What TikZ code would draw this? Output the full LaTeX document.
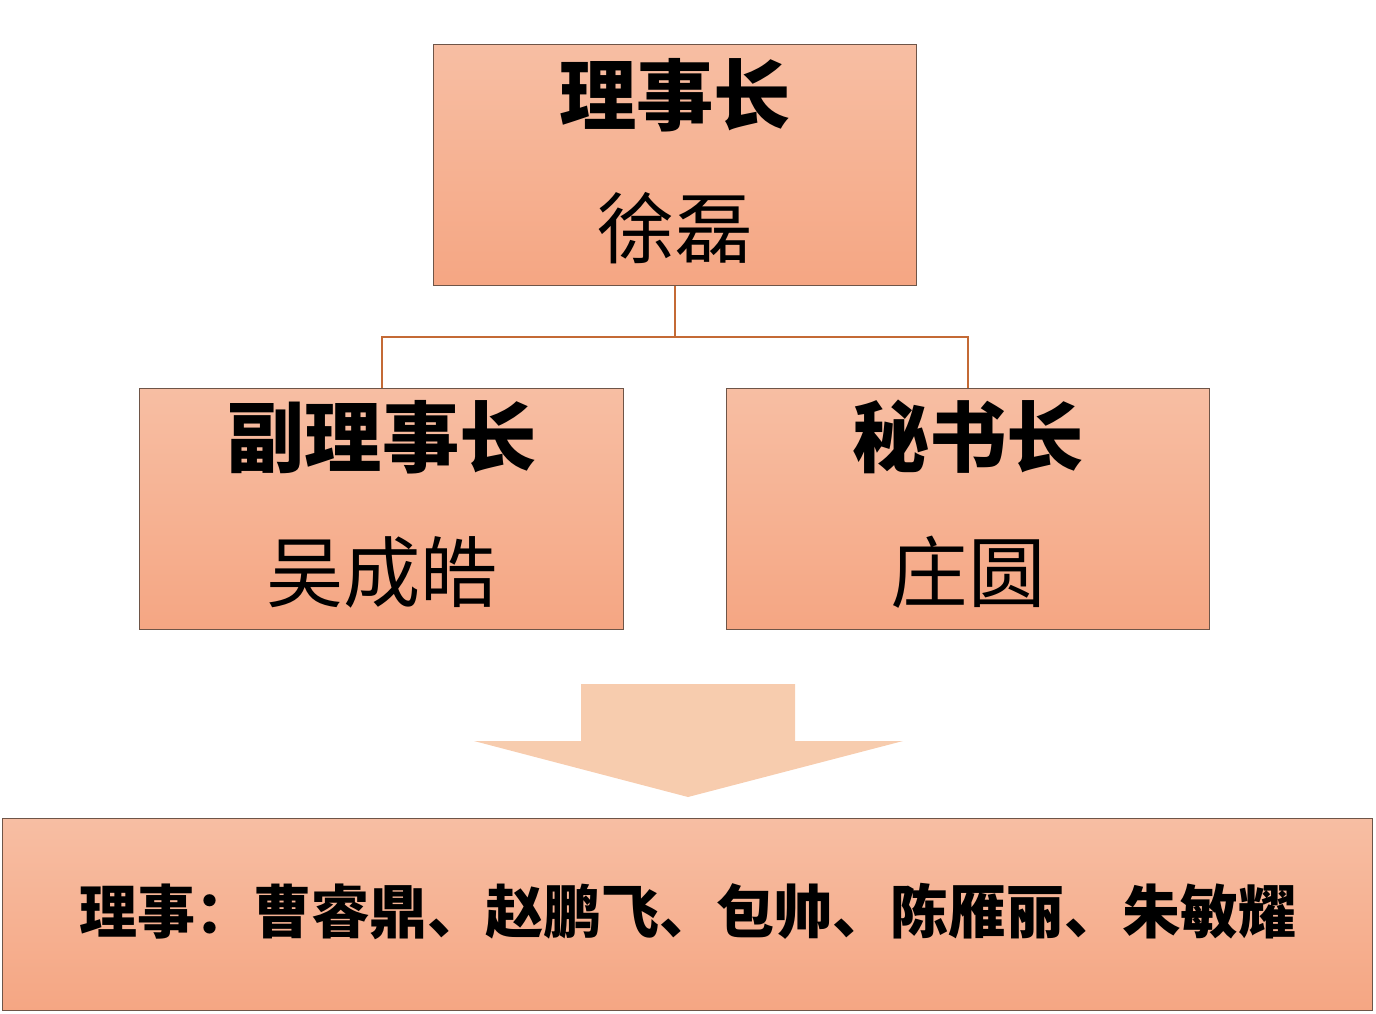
\documentclass[tikz,border=0pt]{standalone}
\usepackage{fontspec}
\newfontfamily\cjk{Noto Sans CJK SC}
\definecolor{boxtop}{HTML}{F7BEA3}
\definecolor{boxbottom}{HTML}{F5A683}
\definecolor{boxline}{HTML}{6E5548}
\definecolor{linkline}{HTML}{C46A35}
\definecolor{arrowfill}{HTML}{F7CCAE}
\tikzset{
  postbox/.style={rectangle, draw=boxline, line width=0.02cm, top color=boxtop, bottom color=boxbottom, inner sep=0pt},
  posttitle/.style={font=\cjk\bfseries\fontsize{44}{50}\selectfont, inner sep=0pt},
  postname/.style={font=\cjk\fontsize{44}{50}\selectfont, inner sep=0pt},
  link/.style={draw=linkline, line width=0.04cm}
}
\begin{document}
\begin{tikzpicture}[x=0.02cm,y=-0.02cm]
  \useasboundingbox (0,0) rectangle (1376,1014);
  {\cjk

  % Drawing boxes
  \node [postbox, minimum width=9.68cm, minimum height=4.84cm] (chair) at (675,165) {};
  \node [postbox, minimum width=9.70cm, minimum height=4.84cm] (vice) at (381.5,509) {};
  \node [postbox, minimum width=9.68cm, minimum height=4.84cm] (secretary) at (968,509) {};
  \node [postbox, minimum width=27.42cm, minimum height=3.86cm] (council) at (687.5,914.5) {};

  % Drawing connectors
  \coordinate (split) at (675,337);
  \draw [link] (chair.south) -- (split);
  \draw [link] (split) -| (vice.north);
  \draw [link] (split) -| (secretary.north);

  % Drawing arrow
  \fill [arrowfill] (581,684) -- (795,684) -- (795,741) -- (903,741) -- (688,797) -- (474,741) -- (581,741) -- cycle;

  % Marking texts
  \node [posttitle] (chairtitle) at (675,95) {理事长};
  \node [postname] (chairname) at (675,228) {徐磊};
  \node [posttitle] (vicetitle) at (382,437) {副理事长};
  \node [postname] (vicename) at (382,572) {吴成皓};
  \node [posttitle] (secretarytitle) at (968,437) {秘书长};
  \node [postname] (secretaryname) at (968,572) {庄圆};
  \node [font=\cjk\bfseries\fontsize{33}{38}\selectfont, inner sep=0pt] (members) at (688,912) {理事：曹睿鼎、赵鹏飞、包帅、陈雁丽、朱敏耀};
  }
\end{tikzpicture}
\end{document}
